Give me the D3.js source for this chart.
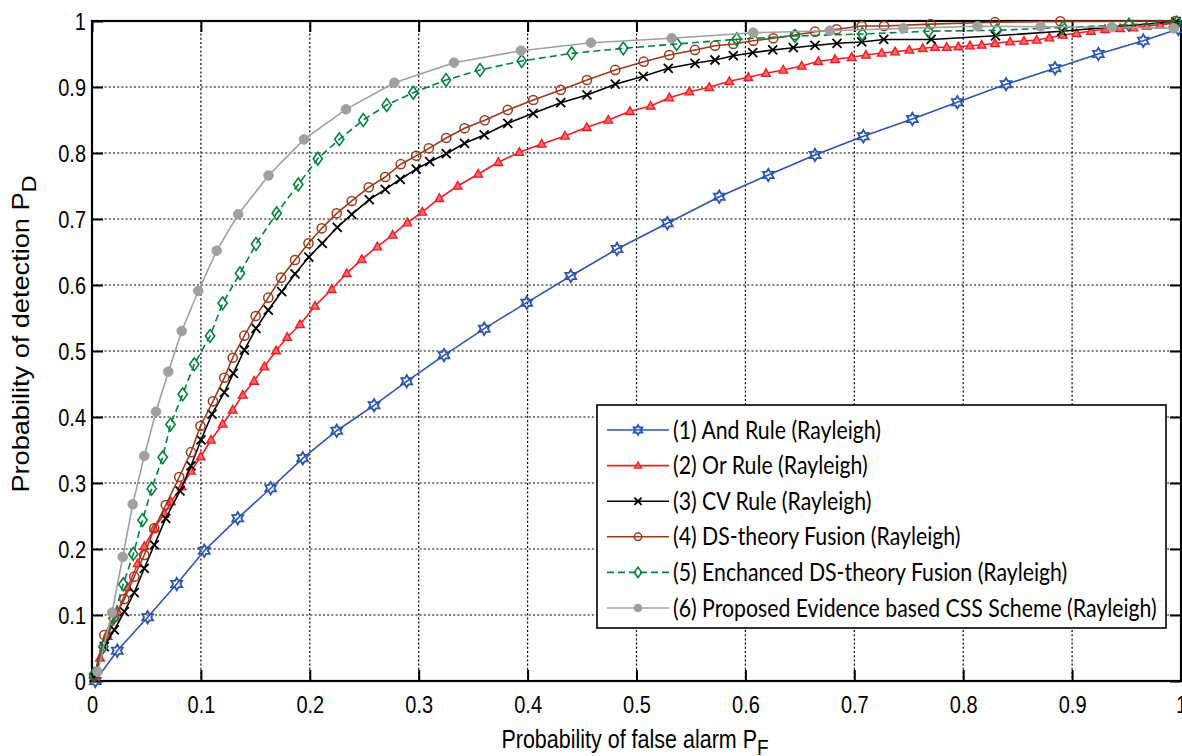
<!DOCTYPE html>
<html><head><meta charset="utf-8">
<script src="https://cdn.jsdelivr.net/npm/d3@7"></script>
<style>html,body{margin:0;padding:0;background:#fff;overflow:hidden}</style>
</head><body>
<svg id="chart" width="1182" height="756"></svg>
<script>
// ---------------- DATA ----------------
const xTicks = [0,0.1,0.2,0.3,0.4,0.5,0.6,0.7,0.8,0.9,1];
const yTicks = [0,0.1,0.2,0.3,0.4,0.5,0.6,0.7,0.8,0.9,1];
const xTickLabels = ["0","0.1","0.2","0.3","0.4","0.5","0.6","0.7","0.8","0.9","1"];
const yTickLabels = ["0","0.1","0.2","0.3","0.4","0.5","0.6","0.7","0.8","0.9","1"];

const seriesNames = [
  "(1) And Rule (Rayleigh)",
  "(2) Or Rule (Rayleigh)",
  "(3) CV Rule (Rayleigh)",
  "(4) DS-theory Fusion (Rayleigh)",
  "(5) Enchanced DS-theory Fusion (Rayleigh)",
  "(6) Proposed Evidence based CSS Scheme (Rayleigh)"
];

const andRule = [[0.003,0.0],[0.0232,0.0459],[0.0511,0.0965],[0.0778,0.147],[0.1031,0.1974],[0.1338,0.2465],
 [0.1641,0.292],[0.1935,0.3374],[0.2247,0.3792],[0.259,0.4177],[0.289,0.4541],[0.3232,0.4935],[0.3602,0.5338],
 [0.3992,0.5732],[0.4396,0.6136],[0.4821,0.6545],[0.5283,0.6935],[0.576,0.7338],[0.621,0.7667],[0.6639,0.797],
 [0.7083,0.8253],[0.7533,0.8515],[0.7946,0.8768],[0.8393,0.9041],[0.8843,0.9283],[0.9241,0.95],[0.9654,0.9702],
 [0.9975,0.9879]];

const orRule = [[0.002,0.005],[0.0073,0.035],[0.0144,0.068],[0.0236,0.105],[0.0328,0.142],[0.042,0.178],
 [0.048,0.204],[0.0572,0.2314],[0.0664,0.2530],[0.0725,0.2717],[0.0824,0.2944],[0.0909,0.3182],[0.0998,0.3398],
 [0.1093,0.3652],[0.12,0.3894],[0.1292,0.4106],[0.1384,0.4333],[0.1488,0.4545],[0.1582,0.4762],[0.169,0.5005],
 [0.1793,0.5208],[0.191,0.5402],[0.2048,0.5682],[0.2201,0.5935],[0.2339,0.6177],[0.2477,0.6389],[0.262,0.658],
 [0.2761,0.6758],[0.2895,0.6944],[0.3033,0.7106],[0.3189,0.7314],[0.3358,0.75],[0.3547,0.7682],[0.3731,0.7859],
 [0.3924,0.8011],[0.4129,0.8136],[0.4343,0.8258],[0.4543,0.8389],[0.4741,0.85],[0.494,0.8632],[0.513,0.8712],
 [0.5301,0.8838],[0.5485,0.8929],[0.5668,0.8995],[0.5852,0.9086],[0.6027,0.9147],[0.6189,0.9208],[0.6348,0.9258],
 [0.6517,0.9318],[0.6669,0.9389],[0.6823,0.942],[0.6976,0.945],[0.7107,0.9485],[0.7252,0.9515],[0.7374,0.9535],
 [0.7505,0.9561],[0.7628,0.9586],[0.7741,0.9602],[0.7848,0.9602],[0.7955,0.9611],[0.8062,0.9626],[0.817,0.9636],
 [0.8292,0.9662],[0.843,0.9686],[0.8558,0.9697],[0.8675,0.9712],[0.8791,0.9747],[0.8914,0.9788],[0.9042,0.9814],
 [0.9174,0.9848],[0.9302,0.9874],[0.944,0.9889],[0.9562,0.9898],[0.9685,0.9924],[0.9807,0.9939],[0.993,0.9965]];

const cvRule = [[0.002,0.005],[0.0113,0.052],[0.0205,0.0773],[0.0297,0.105],[0.0388,0.1338],[0.048,0.1708],
 [0.0572,0.2061],[0.0677,0.2465],[0.0808,0.2879],[0.0909,0.3258],[0.1001,0.3652],[0.1102,0.4045],[0.1215,0.4374],
 [0.1298,0.4662],[0.1399,0.5015],[0.1506,0.5344],[0.1619,0.5621],[0.1742,0.5898],[0.1864,0.6167],[0.1991,0.6424],
 [0.2114,0.6632],[0.2252,0.6874],[0.2385,0.7071],[0.2546,0.7293],[0.2693,0.745],[0.2831,0.7602],[0.2977,0.7755],
 [0.3101,0.7868],[0.3253,0.7989],[0.3421,0.8147],[0.3601,0.8273],[0.3818,0.845],[0.4052,0.8601],[0.4304,0.8762],
 [0.4545,0.8879],[0.4805,0.9042],[0.5062,0.9162],[0.5292,0.9283],[0.5537,0.9359],[0.5721,0.9409],[0.5889,0.9474],
 [0.6067,0.952],[0.6251,0.9561],[0.644,0.9595],[0.6639,0.9629],[0.6841,0.9662],[0.7068,0.9682],[0.727,0.972],
 [0.7706,0.972],[0.8297,0.9776],[0.8905,0.9845],[0.9955,0.999]];

const dsFusion = [[0.002,0.008],[0.0113,0.0697],[0.0205,0.0965],[0.0297,0.1242],[0.0388,0.158],[0.048,0.1909],
 [0.0572,0.2314],[0.0678,0.2667],[0.0801,0.3091],[0.0909,0.3467],[0.0996,0.3864],[0.1111,0.4238],[0.1215,0.4595],
 [0.1292,0.4898],[0.1399,0.5232],[0.1503,0.553],[0.1619,0.5808],[0.1736,0.6111],[0.1864,0.6379],[0.1988,0.6632],
 [0.211,0.6859],[0.2247,0.7086],[0.2385,0.7273],[0.2541,0.748],[0.2693,0.7636],[0.2835,0.783],[0.2978,0.7958],
 [0.3093,0.8071],[0.3253,0.8227],[0.3421,0.8374],[0.3606,0.8495],[0.3817,0.8652],[0.4052,0.8803],[0.4304,0.8955],
 [0.4545,0.9106],[0.4805,0.9258],[0.5066,0.9383],[0.5301,0.9485],[0.5537,0.9561],[0.5721,0.9626],[0.5889,0.9652],
 [0.6073,0.9702],[0.6256,0.9738],[0.6455,0.9788],[0.6639,0.9838],[0.6838,0.9874],[0.7068,0.9924],[0.7273,0.9924],
 [0.7701,0.9952],[0.8292,0.9982],[0.8892,0.9995],[0.995,1.0]];

const enhancedDS = [[0.002,0.0106],[0.0104,0.052],[0.0196,0.095],[0.0287,0.1465],[0.0379,0.1924],[0.0464,0.2439],
 [0.0548,0.2912],[0.0649,0.3389],[0.0721,0.3886],[0.0833,0.4344],[0.0939,0.4798],[0.1084,0.5227],[0.12,0.5723],
 [0.1359,0.6177],[0.1506,0.6621],[0.1696,0.7086],[0.1894,0.7523],[0.2073,0.7914],[0.2271,0.8208],[0.2491,0.85],
 [0.2706,0.8727],[0.295,0.8914],[0.3251,0.9106],[0.3563,0.9258],[0.3946,0.9394],[0.4405,0.951],[0.4879,0.9586],
 [0.5369,0.9652],[0.592,0.9723],[0.6455,0.9773],[0.7073,0.9803],[0.768,0.9845],[0.831,0.9859],[0.8916,0.9902],
 [0.9522,0.9944],[0.9963,0.9977]];

const proposed = [[0.0051,0.0141],[0.0184,0.1035],[0.0282,0.1879],[0.0374,0.2677],[0.048,0.3409],[0.0588,0.408],
 [0.0701,0.4686],[0.0824,0.5303],[0.0976,0.5909],[0.1145,0.652],[0.1343,0.7071],[0.1621,0.7659],[0.1947,0.8205],
 [0.2332,0.8662],[0.2776,0.9065],[0.3324,0.9368],[0.3939,0.955],[0.4582,0.9671],[0.5323,0.9738],[0.6073,0.9823],
 [0.6774,0.9853],[0.745,0.9889],[0.8131,0.992],[0.8712,0.9914],[0.9364,0.9906],[0.9933,0.9889]];

const seriesData = [andRule, orRule, cvRule, dsFusion, enhancedDS, proposed];
const seriesColors = ["#2b55b0", "#f41c24", "#000000", "#9c3a1c", "#00843d", "#a0a0a0"];
const seriesMarkers = ["hexagram", "triangle", "cross", "circle", "diamond", "dot"];
const seriesDash = [null, null, null, null, "7,4", null];

// ---------------- LAYOUT ----------------
const svg = d3.select("#chart");
const L = 92, R = 1181, T = 21, B = 681;
const x = d3.scaleLinear().domain([0,1]).range([L,R]);
const y = d3.scaleLinear().domain([0,1]).range([B,T]);
const FONT = "'Liberation Sans', Arial, sans-serif";
const STRETCH = 1.18;

svg.append("rect").attr("width",1182).attr("height",756).attr("fill","#fff");

// grid
const grid = svg.append("g").attr("stroke","#000").attr("stroke-width",1.2).attr("stroke-dasharray","2,2.2");
grid.selectAll(".gx").data(xTicks.slice(1,-1)).join("line")
  .attr("x1",d=>x(d)).attr("x2",d=>x(d)).attr("y1",T).attr("y2",B);
grid.selectAll(".gy").data(yTicks.slice(1,-1)).join("line")
  .attr("y1",d=>y(d)).attr("y2",d=>y(d)).attr("x1",L).attr("x2",R);

// axes using d3 axis with inward ticks
const tickLen = 11;
const xAxis = d3.axisBottom(x).tickValues(xTicks).tickFormat((d,i)=>xTickLabels[i]).tickSizeInner(-tickLen).tickSizeOuter(0);
const yAxis = d3.axisLeft(y).tickValues(yTicks).tickFormat((d,i)=>yTickLabels[i]).tickSizeInner(-tickLen).tickSizeOuter(0);
const gx = svg.append("g").attr("transform",`translate(0,${B})`).call(xAxis);
const gy = svg.append("g").attr("transform",`translate(${L},0)`).call(yAxis);
const gx2 = svg.append("g").attr("transform",`translate(0,${T})`).call(d3.axisTop(x).tickValues(xTicks).tickFormat("").tickSizeInner(-tickLen).tickSizeOuter(0));
const gy2 = svg.append("g").attr("transform",`translate(${R},0)`).call(d3.axisRight(y).tickValues(yTicks).tickFormat("").tickSizeInner(-tickLen).tickSizeOuter(0));
[gx,gy,gx2,gy2].forEach(g=>{
  g.select(".domain").remove();
  g.selectAll(".tick line").attr("stroke","#000").attr("stroke-width",2);
  g.selectAll(".tick text").attr("fill","#000").style("font-family",FONT).style("font-size","20px");
});
gx.selectAll(".tick text").attr("y",0).attr("dy",null).attr("text-anchor","middle")
  .attr("transform",`translate(0,32) scale(1,${STRETCH})`);
gy.selectAll(".tick text").attr("x",0).attr("dy","0.36em").attr("text-anchor","end")
  .attr("transform",`translate(-6,0) scale(1,${STRETCH})`);

// frame
svg.append("rect").attr("x",L).attr("y",T).attr("width",R-L).attr("height",B-T)
  .attr("fill","none").attr("stroke","#000").attr("stroke-width",2.2);

// markers
const hexagram = { draw(ctx, size) {
  const ro = Math.sqrt(size)/2*1.25, ri = ro/Math.sqrt(3);
  for (let k=0;k<12;k++){
    const a = -Math.PI/2 + k*Math.PI/6, r = k%2===0?ro:ri;
    const px = r*Math.cos(a), py = r*Math.sin(a);
    if(k===0) ctx.moveTo(px,py); else ctx.lineTo(px,py);
  }
  ctx.closePath();
}};
function drawMarker(g, type, color, cx, cy, scale=1){
  if(type==="hexagram"){
    g.append("path").attr("d", d3.symbol().type(hexagram).size(100*scale*scale)())
      .attr("transform",`translate(${cx},${cy})`).attr("fill","none").attr("stroke",color).attr("stroke-width",1.8);
  } else if(type==="triangle"){
    const s=4.5*scale;
    g.append("path").attr("d",`M0,${-s}L${s*0.95},${s*0.7}L${-s*0.95},${s*0.7}Z`)
      .attr("transform",`translate(${cx},${cy})`).attr("fill","#f86a6a").attr("stroke",color).attr("stroke-width",1.4);
  } else if(type==="cross"){
    const s=4.5*scale;
    g.append("path").attr("d",`M${-s},${-s}L${s},${s}M${-s},${s}L${s},${-s}`)
      .attr("transform",`translate(${cx},${cy})`).attr("fill","none").attr("stroke",color).attr("stroke-width",1.8);
  } else if(type==="circle"){
    g.append("circle").attr("cx",cx).attr("cy",cy).attr("r",4.6*scale)
      .attr("fill","none").attr("stroke",color).attr("stroke-width",1.5);
  } else if(type==="diamond"){
    const w=4.6*scale, h=6.4*scale;
    g.append("path").attr("d",`M0,${-h}L${w},0L0,${h}L${-w},0Z`)
      .attr("transform",`translate(${cx},${cy})`).attr("fill","none").attr("stroke",color).attr("stroke-width",1.6);
  } else if(type==="dot"){
    g.append("circle").attr("cx",cx).attr("cy",cy).attr("r",4.8*scale)
      .attr("fill",color).attr("stroke",color).attr("stroke-width",1);
  }
}

const line = d3.line().x(d=>x(d[0])).y(d=>y(d[1]));
seriesData.forEach((data,i)=>{
  const g = svg.append("g");
  g.append("path").datum(data).attr("d",line).attr("fill","none")
    .attr("stroke",seriesColors[i]).attr("stroke-width",1.6)
    .attr("stroke-dasharray",seriesDash[i]);
  data.forEach(d=>drawMarker(g, seriesMarkers[i], seriesColors[i], x(d[0]), y(d[1])));
});

// legend
const lg = svg.append("g");
const lgX = 597, lgY = 405, lgW = 569, lgH = 223;
lg.append("rect").attr("x",lgX).attr("y",lgY).attr("width",lgW).attr("height",lgH)
  .attr("fill","#fff").attr("stroke","#000").attr("stroke-width",1.6);
const LFONT = "Lato, 'Open Sans', sans-serif";
let lfs = 20;
const texts = [];
seriesNames.forEach((name,i)=>{
  const cy = 430 + i*35.6;
  lg.append("line").attr("x1",607).attr("x2",669).attr("y1",cy).attr("y2",cy)
    .attr("stroke",seriesColors[i]).attr("stroke-width",1.6).attr("stroke-dasharray",seriesDash[i]);
  drawMarker(lg, seriesMarkers[i], seriesColors[i], 638, cy, 0.8);
  texts.push(lg.append("text").attr("x",0).attr("y",0).attr("dy","0.35em")
    .attr("transform",`translate(673,${cy}) scale(1,1.15)`)
    .style("font-family",LFONT).style("font-size",lfs+"px").attr("fill","#000").text(name));
});
const wLong = texts[5].node().getComputedTextLength();
const fitSize = lfs * 484 / wLong;
texts.forEach(t=>t.style("font-size",fitSize+"px"));

// axis labels
const yl = svg.append("text").attr("transform",`translate(29,334) rotate(-90) scale(${STRETCH},1)`)
  .attr("text-anchor","middle").style("font-family",FONT).style("font-size","23px").attr("fill","#000");
yl.append("tspan").text("Probability of detection P");
yl.append("tspan").attr("dy","7").style("font-size","20px").text("D");

const xl = svg.append("text").attr("transform",`translate(635,748) scale(1,${STRETCH})`)
  .attr("text-anchor","middle").style("font-family",FONT).style("font-size","21.5px").attr("fill","#000");
xl.append("tspan").text("Probability of false alarm P");
xl.append("tspan").attr("dy","6").style("font-size","19px").text("F");
</script>
</body></html>
